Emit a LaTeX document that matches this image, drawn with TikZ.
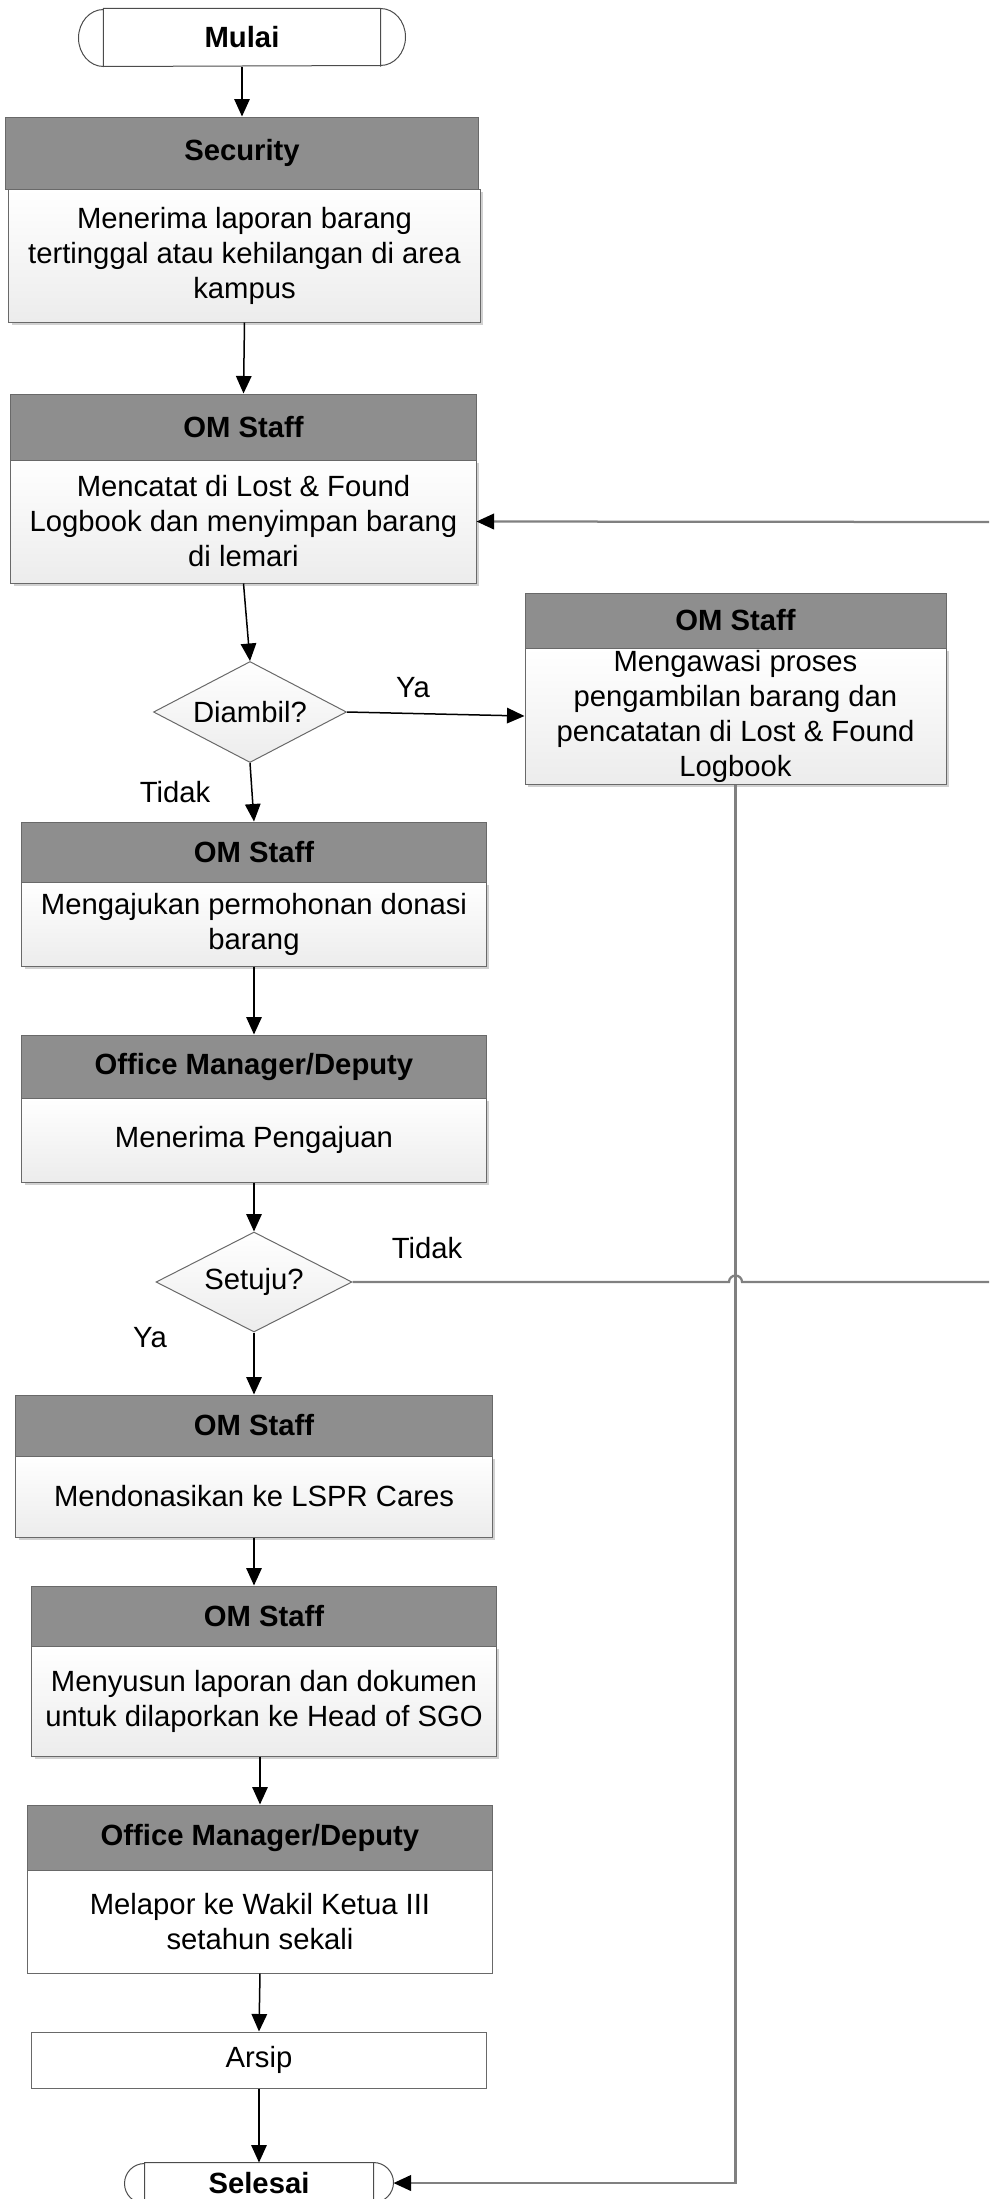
\documentclass[tikz,border=0pt]{standalone}
\usepackage{fontspec}
\setmainfont{Liberation Sans}
\usetikzlibrary{shapes.geometric,shadows,arrows.meta}
\definecolor{hdrgray}{RGB}{142,142,142}
\definecolor{bodygray}{RGB}{236,236,236}
\definecolor{edgegray}{RGB}{105,105,105}
\definecolor{linegray}{RGB}{128,128,128}
\newcommand\flowfont{\fontsize{11.7}{14}\selectfont}

\begin{document}
\begin{tikzpicture}[x=0.4pt,y=-0.4pt,
    wh/.style 2 args={minimum width=#1,minimum height=#2},
    head/.style={draw=edgegray,fill=hdrgray,font=\flowfont\bfseries,inner sep=0pt,align=center},
    body/.style={draw=edgegray,top color=white,bottom color=bodygray,font=\flowfont,inner sep=0pt,align=center,
      drop shadow={shadow xshift=1.2pt,shadow yshift=-1.2pt,fill=black,opacity=0.18}},
    plain/.style={draw=edgegray,fill=white,font=\flowfont,inner sep=0pt,align=center},
    decide/.style={diamond,aspect=1.9,draw=edgegray,top color=white,bottom color=bodygray,font=\flowfont,inner sep=0pt},
    term/.style={font=\flowfont\bfseries,inner sep=0pt},
    flow/.style={-{Triangle[length=7pt,width=6.2pt]},line width=0.6pt},
    back/.style={draw=linegray,line width=0.9pt},
    lbl/.style={font=\flowfont,inner sep=0pt}]
  \useasboundingbox (0,0) rectangle (989,2199);

  % start
  \node[term,wh={130.4pt}{22.8pt}] (start) at (242,37.5) {Mulai};
  \draw[black!70] ([xshift=10pt]start.north west) -- ([xshift=-10pt]start.north east)
      arc[start angle=90,end angle=-90,x radius=10pt,y radius=11.4pt]
      -- ([xshift=10pt]start.south west)
      arc[start angle=270,end angle=90,x radius=10pt,y radius=11.4pt] -- cycle
    ([xshift=10pt]start.north west) -- ([xshift=10pt]start.south west)
    ([xshift=-10pt]start.north east) -- ([xshift=-10pt]start.south east);

  % main column
  \node[head,wh={188.8pt}{28.8pt}] (sechead) at (242,153) {Security};
  \node[body,wh={188.4pt}{53.2pt}] (secbody) at (244.5,255.5) {Menerima laporan barang\\ tertinggal atau kehilangan di area\\ kampus};
  \node[head,wh={186pt}{26.4pt}] (om1head) at (243.5,427) {OM Staff};
  \node[body,wh={186pt}{49.2pt}] (om1body) at (243.5,521.5) {Mencatat di Lost \& Found\\ Logbook dan menyimpan barang\\ di lemari};
  \node[decide,wh={77.2pt}{40.4pt}] (ambil) at (250,712) {Diambil?};
  \node[head,wh={185.6pt}{24pt}] (om2head) at (254,852) {OM Staff};
  \node[body,wh={185.6pt}{33.6pt}] (om2body) at (254,924) {Mengajukan permohonan donasi\\ barang};
  \node[head,wh={185.6pt}{25.2pt}] (omd1head) at (254,1066.5) {Office Manager/Deputy};
  \node[body,wh={185.6pt}{33.6pt}] (omd1body) at (254,1140) {Menerima Pengajuan};
  \node[decide,wh={78.4pt}{40pt}] (setuju) at (254,1282) {Setuju?};
  \node[head,wh={190.4pt}{24.4pt}] (om3head) at (254,1425.5) {OM Staff};
  \node[body,wh={190.4pt}{32.4pt}] (om3body) at (254,1496.5) {Mendonasikan ke LSPR Cares};
  \node[head,wh={185.6pt}{24pt}] (om4head) at (264,1616) {OM Staff};
  \node[body,wh={185.6pt}{44pt}] (om4body) at (264,1701) {Menyusun laporan dan dokumen\\ untuk dilaporkan ke Head of SGO};
  \node[head,wh={185.6pt}{26pt}] (omd2head) at (260,1837.5) {Office Manager/Deputy};
  \node[plain,wh={185.6pt}{41.2pt}] (omd2body) at (260,1921.5) {Melapor ke Wakil Ketua III\\ setahun sekali};
  \node[plain,wh={181.6pt}{22.4pt}] (arsip) at (259,2060) {Arsip};

  % side branch
  \node[head,wh={168.4pt}{22pt}] (awasihead) at (735.5,620.5) {OM Staff};
  \node[body,wh={168.4pt}{54.4pt}] (awasibody) at (735.5,716) {Mengawasi proses\\ pengambilan barang dan\\ pencatatan di Lost \& Found\\ Logbook};

  % end
  \node[term,wh={107.2pt}{16pt}] (selesai) at (259,2183) {Selesai};
  \draw[black!70] ([xshift=8pt]selesai.north west) -- ([xshift=-8pt]selesai.north east)
      arc[start angle=90,end angle=-90,radius=8pt]
      -- ([xshift=8pt]selesai.south west)
      arc[start angle=270,end angle=90,radius=8pt] -- cycle
    ([xshift=8pt]selesai.north west) -- ([xshift=8pt]selesai.south west)
    ([xshift=-8pt]selesai.north east) -- ([xshift=-8pt]selesai.south east);

  % labels
  \node[lbl] (ya1) at (413,688) {Ya};
  \node[lbl] (tidak1) at (175,792) {Tidak};
  \node[lbl] (tidak2) at (427,1248) {Tidak};
  \node[lbl] (ya2) at (150,1338) {Ya};

  % connectors
  \draw[flow] (start.south) -- (sechead.north);
  \draw[flow] (secbody.south) -- (om1head.north);
  \draw[flow] (om1body.south) -- (ambil.north);
  \draw[flow] (ambil.east) -- (awasibody.west);
  \draw[flow] (ambil.south) -- (om2head.north);
  \draw[flow] (om2body.south) -- (omd1head.north);
  \draw[flow] (omd1body.south) -- (setuju.north);
  \draw[flow] (setuju.south) -- (om3head.north);
  \draw[flow] (om3body.south) -- (om3body.south |- om4head.north);
  \draw[flow] (om4body.south -| omd2head.north) -- (omd2head.north);
  \draw[flow] (omd2body.south) -- (arsip.north);
  \draw[flow] (arsip.south) -- (selesai.north);

  % loop back and exit lines
  \coordinate (edgein) at (989,522);
  \coordinate (edgeout) at (989,1282);
  \coordinate (hop) at (729,1282);
  \draw[back,-{Triangle[length=7pt,width=6.2pt,color=black]}] (awasibody.south) |- (selesai.east);
  \draw[back] (setuju.east) -- (hop) arc[start angle=180,end angle=0,radius=2.6pt] -- (edgeout);
  \draw[back,-{Triangle[length=7pt,width=6.2pt,color=black]}] (edgein) -- (om1body.east);
\end{tikzpicture}
\end{document}
